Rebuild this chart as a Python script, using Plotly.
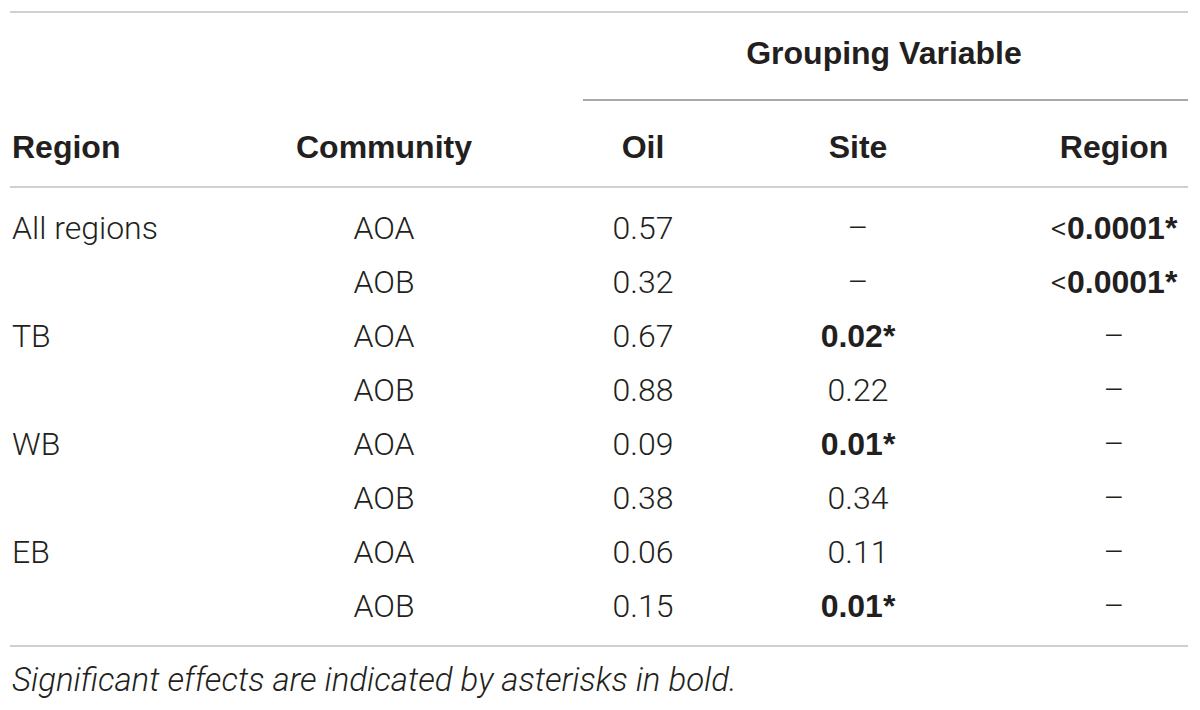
import plotly.graph_objs as go

# table contents
regions = ["All regions", "", "TB", "", "WB", "", "EB", ""]
communities = ["AOA", "AOB", "AOA", "AOB", "AOA", "AOB", "AOA", "AOB"]
oil_p = ["0.57", "0.32", "0.67", "0.88", "0.09", "0.38", "0.06", "0.15"]
site_p = ["–", "–", "0.02*", "0.22", "0.01*", "0.34", "0.11", "0.01*"]
region_p = ["<0.0001*", "<0.0001*", "–", "–", "–", "–", "–", "–"]
headers = ["Region", "Community", "Oil", "Site", "Region"]
group_title = "Grouping Variable"
footnote = "Significant effects are indicated by asterisks in bold."

W, H = 1200, 710
PAD = 8  # default page margin round the plot div
LIGHT = "Roboto"
BOLD = "Liberation Sans"
INK = "#231f20"
RULE = "#d0d0d0"
SIZE = 32

# layout of the grid (in pixel-like axis units)
col_x = [12, 384, 643, 858, 1114]
row0, row_step = 231, 54
row_y = [row0 + row_step * i for i in range(len(communities))]
header_y = 150
group_y = 56
foot_y = 683

BOLD_SPAN = '<span style="font-family:%s;font-weight:bold">%s</span>'


def fmt(v):
    # significant values are bold; a leading "<" stays light
    if v.endswith("*"):
        if v.startswith("<"):
            return "<" + BOLD_SPAN % (BOLD, v[1:])
        return BOLD_SPAN % (BOLD, v)
    return v


fig = go.Figure()

body = [regions, communities, oil_p, site_p, region_p]
for j, col in enumerate(body):
    fig.add_trace(go.Scatter(
        x=[col_x[j]] * len(col),
        y=row_y,
        mode="text",
        text=[fmt(v) for v in col],
        textposition="middle right" if j == 0 else "middle center",
        textfont=dict(family=LIGHT, size=SIZE, color=INK, weight=300),
        hoverinfo="skip",
        showlegend=False,
    ))

fig.add_trace(go.Scatter(
    x=col_x,
    y=[header_y] * len(headers),
    mode="text",
    text=headers,
    textposition=["middle right"] + ["middle center"] * 4,
    textfont=dict(family=BOLD, size=SIZE, color=INK, weight="bold"),
    hoverinfo="skip",
    showlegend=False,
))

fig.add_trace(go.Scatter(
    x=[884],
    y=[group_y],
    mode="text",
    text=[group_title],
    textposition="middle center",
    textfont=dict(family=BOLD, size=SIZE, color=INK, weight="bold"),
    hoverinfo="skip",
    showlegend=False,
))

fig.add_trace(go.Scatter(
    x=[12],
    y=[foot_y],
    mode="text",
    text=[footnote],
    textposition="middle right",
    textfont=dict(family=LIGHT, size=SIZE + 1, color=INK, weight=300,
                  style="italic"),
    hoverinfo="skip",
    showlegend=False,
))

# horizontal rules
rules = [(10, 1188, 12, RULE), (583, 1188, 100, "#a9a9a9"),
         (10, 1188, 187, RULE), (10, 1188, 646, RULE)]
for x0, x1, y, c in rules:
    fig.add_shape(type="line", xref="x", yref="y", x0=x0, x1=x1, y0=y, y1=y,
                  line=dict(color=c, width=2))

fig.update_layout(
    width=W - PAD, height=H - PAD,
    margin=dict(l=0, r=0, t=0, b=0),
    paper_bgcolor="white", plot_bgcolor="white",
    xaxis=dict(range=[PAD, W], visible=False, fixedrange=True),
    yaxis=dict(range=[H, PAD], visible=False, fixedrange=True),
)

fig.write_html("out.html")
